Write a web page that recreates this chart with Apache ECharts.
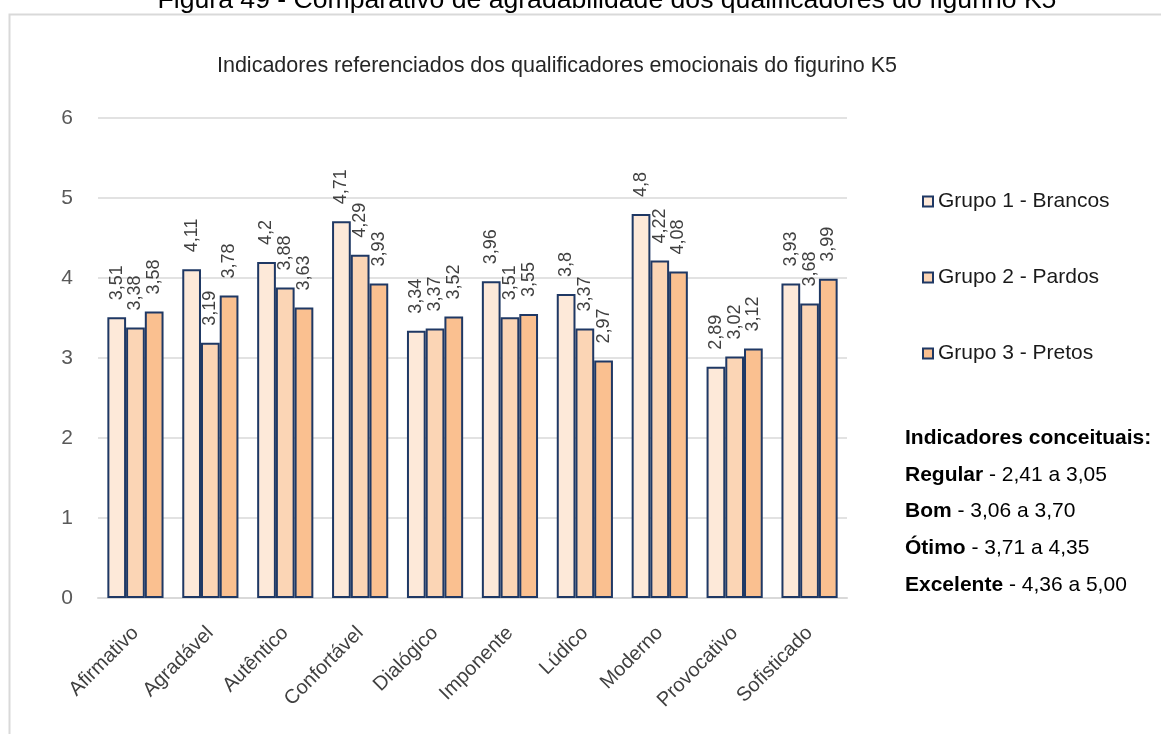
<!DOCTYPE html>
<html>
<head>
<meta charset="utf-8">
<script src="https://cdn.jsdelivr.net/npm/echarts@6/dist/echarts.min.js"></script>
<style>
  html, body { margin: 0; padding: 0; background: #ffffff; }
  #chart { width: 1161px; height: 734px; }
</style>
</head>
<body>
<div id="chart"></div>
<script>
// Qualificadores emocionais avaliados
const categories = ['Afirmativo', 'Agradável', 'Autêntico', 'Confortável', 'Dialógico',
                    'Imponente', 'Lúdico', 'Moderno', 'Provocativo', 'Sofisticado'];

// Médias por grupo
const grupo1 = [3.51, 4.11, 4.2, 4.71, 3.34, 3.96, 3.8, 4.8, 2.89, 3.93];
const grupo2 = [3.38, 3.19, 3.88, 4.29, 3.37, 3.51, 3.37, 4.22, 3.02, 3.68];
const grupo3 = [3.58, 3.78, 3.63, 3.93, 3.52, 3.55, 2.97, 4.08, 3.12, 3.99];

const seriesNames = ['Grupo 1 - Brancos', 'Grupo 2 - Pardos', 'Grupo 3 - Pretos'];

// Faixas dos indicadores conceituais
const conceptTitle = 'Indicadores conceituais:';
const conceptNames = ['Regular', 'Bom', 'Ótimo', 'Excelente'];
const conceptRanges = ['2,41 a 3,05', '3,06 a 3,70', '3,71 a 4,35', '4,36 a 5,00'];

const figureTitle = 'Figura 49 - Comparativo de agradabilidade dos qualificadores do figurino K5';
const chartTitle = 'Indicadores referenciados dos qualificadores emocionais do figurino K5';

const fills = ['#FDE9D9', '#FBD5B5', '#FAC090'];
const edge = '#1F3864';
const font = 'Liberation Sans, Arial, sans-serif';

const chart = echarts.init(document.getElementById('chart'), null, { renderer: 'canvas' });

function makeSeries(name, data, idx) {
  return {
    name: name,
    type: 'bar',
    data: data,
    barGap: '0%',
    barCategoryGap: '25%',
    itemStyle: { color: fills[idx], borderColor: edge, borderWidth: 2 },
    label: {
      show: true,
      position: 'top',
      rotate: 90,
      align: 'left',
      verticalAlign: 'middle',
      distance: 17,
      fontFamily: font,
      fontSize: 18,
      color: '#404040',
      formatter: p => String(p.value).replace('.', ',')
    }
  };
}

const conceptGraphics = conceptNames.map((n, i) => ({
  type: 'text',
  x: 905,
  y: 475 + i * 36.7,
  style: {
    text: '{b|' + n + '}{r| - ' + conceptRanges[i] + '}',
    fill: '#000000',
    verticalAlign: 'middle',
    rich: {
      b: { fontWeight: 'bold', fontSize: 21, fontFamily: font, fill: '#000000' },
      r: { fontSize: 21, fontFamily: font, fill: '#000000' }
    }
  }
}));

chart.setOption({
  animation: false,
  backgroundColor: '#ffffff',
  textStyle: { fontFamily: font },
  title: [
    {
      text: chartTitle,
      left: 552,
      textAlign: 'center',
      top: 50,
      textStyle: { fontFamily: font, fontSize: 21.5, fontWeight: 'normal', color: '#262626' }
    }
  ],
  legend: {
    orient: 'vertical',
    left: 917,
    top: 186,
    itemGap: 55,
    itemWidth: 10,
    itemHeight: 10,
    icon: 'rect',
    textStyle: { fontFamily: font, fontSize: 21, color: '#1a1a1a' },
    data: seriesNames
  },
  grid: { left: 98, right: 314, top: 118, bottom: 136, containLabel: false },
  xAxis: {
    type: 'category',
    data: categories,
    axisLine: { lineStyle: { color: '#d9d9d9', width: 2 } },
    axisTick: { show: false },
    axisLabel: {
      rotate: 45,
      interval: 0,
      margin: 32,
      fontFamily: font,
      fontSize: 20,
      color: '#404040'
    }
  },
  yAxis: {
    type: 'value',
    min: 0,
    max: 6,
    interval: 1,
    axisLine: { show: false },
    axisTick: { show: false },
    splitLine: { lineStyle: { color: '#d9d9d9', width: 1.5 } },
    axisLabel: { fontFamily: font, fontSize: 21, color: '#595959', margin: 25 }
  },
  series: [
    makeSeries(seriesNames[0], grupo1, 0),
    makeSeries(seriesNames[1], grupo2, 1),
    makeSeries(seriesNames[2], grupo3, 2)
  ],
  graphic: [
    {
      type: 'text',
      x: 607,
      y: 14,
      z: 1,
      style: {
        text: figureTitle,
        font: '26.6px ' + font,
        fill: '#000000',
        align: 'center',
        verticalAlign: 'bottom'
      }
    },
    {
      type: 'rect',
      left: 7,
      top: 12,
      z: 5,
      shape: { width: 1200, height: 800 },
      style: { fill: 'none', stroke: '#d9d9d9', lineWidth: 2 }
    },
    {
      type: 'text',
      x: 905,
      y: 438,
      style: {
        text: conceptTitle,
        font: 'bold 21px ' + font,
        fill: '#000000',
        verticalAlign: 'middle'
      }
    }
  ].concat(conceptGraphics)
});
</script>
</body>
</html>
